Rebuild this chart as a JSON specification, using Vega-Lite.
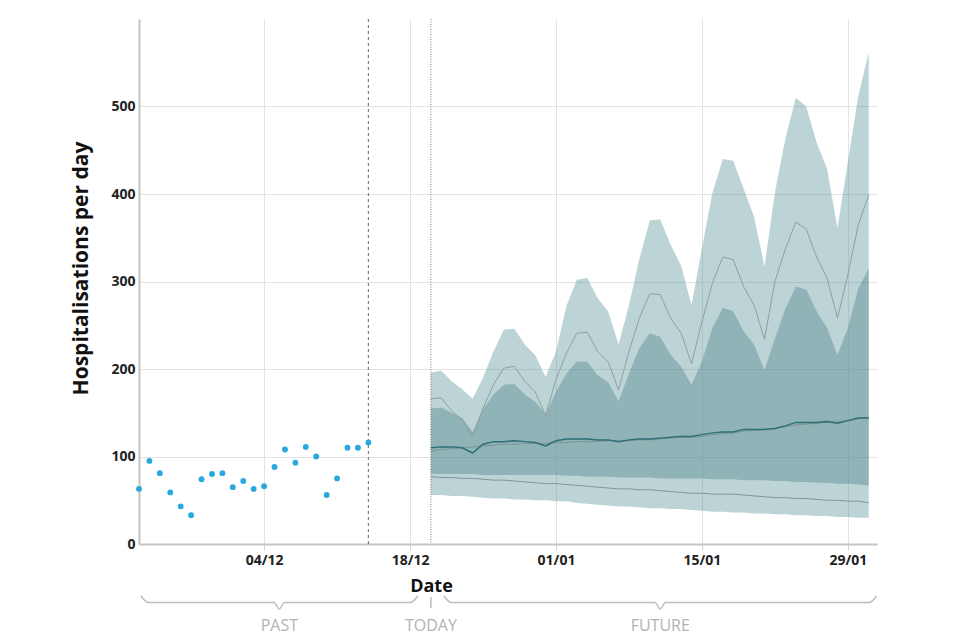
{
  "$schema": "https://vega.github.io/schema/vega-lite/v6.json",
  "padding": {"left": 70, "top": 18, "right": 5, "bottom": 5},
  "bounds": "flush",
  "spacing": 47,
  "config": {
    "font": "Open Sans",
    "view": {"stroke": null},
    "axis": {
      "labelFont": "Open Sans", "labelFontWeight": "bold", "labelFontSize": 14, "labelColor": "#222222",
      "titleFont": "Open Sans", "titleFontWeight": "bold", "titleFontSize": 18, "titleColor": "#111111",
      "gridColor": "#e3e3e3", "gridWidth": 1, "domainColor": "#c4c4c4", "domainWidth": 2
    },
    "axisY": {"ticks": false, "labelPadding": 4, "titlePadding": 19, "titleY": 249, "titleFontSize": 21},
    "axisX": {"tickColor": "#d0d0d0", "tickSize": 6, "labelPadding": 3}
  },
  "datasets": {
    "obs": [
      {"d": "2021-11-22", "v": 63}, {"d": "2021-11-23", "v": 95}, {"d": "2021-11-24", "v": 81},
      {"d": "2021-11-25", "v": 59}, {"d": "2021-11-26", "v": 43}, {"d": "2021-11-27", "v": 33},
      {"d": "2021-11-28", "v": 74}, {"d": "2021-11-29", "v": 80}, {"d": "2021-11-30", "v": 81},
      {"d": "2021-12-01", "v": 65}, {"d": "2021-12-02", "v": 72}, {"d": "2021-12-03", "v": 63},
      {"d": "2021-12-04", "v": 66}, {"d": "2021-12-05", "v": 88}, {"d": "2021-12-06", "v": 108},
      {"d": "2021-12-07", "v": 93}, {"d": "2021-12-08", "v": 111}, {"d": "2021-12-09", "v": 100},
      {"d": "2021-12-10", "v": 56}, {"d": "2021-12-11", "v": 75}, {"d": "2021-12-12", "v": 110},
      {"d": "2021-12-13", "v": 110}, {"d": "2021-12-14", "v": 116}
    ],
    "fc": [
      {"d": "2021-12-20", "olo": 56, "ilo": 80, "plo": 77, "mean": 106, "med": 110, "ihi": 155, "phi": 166, "ohi": 196},
      {"d": "2021-12-21", "olo": 56, "ilo": 80, "plo": 76, "mean": 108, "med": 111, "ihi": 156, "phi": 167, "ohi": 198},
      {"d": "2021-12-22", "olo": 55, "ilo": 80, "plo": 76, "mean": 109, "med": 111, "ihi": 150, "phi": 152, "ohi": 186},
      {"d": "2021-12-23", "olo": 55, "ilo": 80, "plo": 75, "mean": 110, "med": 110, "ihi": 144, "phi": 142, "ohi": 177},
      {"d": "2021-12-24", "olo": 54, "ilo": 80, "plo": 75, "mean": 111, "med": 104, "ihi": 128, "phi": 123, "ohi": 166},
      {"d": "2021-12-25", "olo": 53, "ilo": 79, "plo": 74, "mean": 112, "med": 114, "ihi": 154, "phi": 155, "ohi": 190},
      {"d": "2021-12-26", "olo": 52, "ilo": 79, "plo": 73, "mean": 113, "med": 117, "ihi": 171, "phi": 182, "ohi": 220},
      {"d": "2021-12-27", "olo": 52, "ilo": 79, "plo": 73, "mean": 114, "med": 117, "ihi": 182, "phi": 201, "ohi": 245},
      {"d": "2021-12-28", "olo": 51, "ilo": 79, "plo": 72, "mean": 114, "med": 118, "ihi": 183, "phi": 203, "ohi": 246},
      {"d": "2021-12-29", "olo": 51, "ilo": 79, "plo": 71, "mean": 115, "med": 117, "ihi": 171, "phi": 186, "ohi": 228},
      {"d": "2021-12-30", "olo": 50, "ilo": 79, "plo": 70, "mean": 115, "med": 116, "ihi": 163, "phi": 174, "ohi": 216},
      {"d": "2021-12-31", "olo": 50, "ilo": 79, "plo": 69, "mean": 115, "med": 112, "ihi": 148, "phi": 147, "ohi": 191},
      {"d": "2022-01-01", "olo": 49, "ilo": 79, "plo": 69, "mean": 116, "med": 118, "ihi": 174, "phi": 188, "ohi": 220},
      {"d": "2022-01-02", "olo": 49, "ilo": 78, "plo": 68, "mean": 116, "med": 120, "ihi": 195, "phi": 218, "ohi": 272},
      {"d": "2022-01-03", "olo": 47, "ilo": 78, "plo": 67, "mean": 117, "med": 120, "ihi": 209, "phi": 241, "ohi": 302},
      {"d": "2022-01-04", "olo": 46, "ilo": 77, "plo": 66, "mean": 117, "med": 120, "ihi": 208, "phi": 242, "ohi": 304},
      {"d": "2022-01-05", "olo": 45, "ilo": 77, "plo": 65, "mean": 117, "med": 119, "ihi": 193, "phi": 220, "ohi": 281},
      {"d": "2022-01-06", "olo": 44, "ilo": 77, "plo": 64, "mean": 118, "med": 119, "ihi": 185, "phi": 208, "ohi": 266},
      {"d": "2022-01-07", "olo": 43, "ilo": 76, "plo": 63, "mean": 118, "med": 117, "ihi": 163, "phi": 176, "ohi": 228},
      {"d": "2022-01-08", "olo": 43, "ilo": 76, "plo": 63, "mean": 118, "med": 119, "ihi": 195, "phi": 220, "ohi": 273},
      {"d": "2022-01-09", "olo": 42, "ilo": 76, "plo": 62, "mean": 119, "med": 120, "ihi": 224, "phi": 258, "ohi": 326},
      {"d": "2022-01-10", "olo": 41, "ilo": 76, "plo": 62, "mean": 119, "med": 120, "ihi": 241, "phi": 286, "ohi": 370},
      {"d": "2022-01-11", "olo": 41, "ilo": 75, "plo": 61, "mean": 120, "med": 121, "ihi": 237, "phi": 285, "ohi": 371},
      {"d": "2022-01-12", "olo": 40, "ilo": 75, "plo": 60, "mean": 121, "med": 122, "ihi": 216, "phi": 258, "ohi": 342},
      {"d": "2022-01-13", "olo": 40, "ilo": 75, "plo": 59, "mean": 122, "med": 123, "ihi": 203, "phi": 241, "ohi": 318},
      {"d": "2022-01-14", "olo": 39, "ilo": 75, "plo": 58, "mean": 122, "med": 123, "ihi": 182, "phi": 206, "ohi": 273},
      {"d": "2022-01-15", "olo": 38, "ilo": 75, "plo": 58, "mean": 123, "med": 125, "ihi": 209, "phi": 254, "ohi": 338},
      {"d": "2022-01-16", "olo": 37, "ilo": 74, "plo": 57, "mean": 125, "med": 127, "ihi": 247, "phi": 298, "ohi": 401},
      {"d": "2022-01-17", "olo": 37, "ilo": 74, "plo": 57, "mean": 126, "med": 128, "ihi": 270, "phi": 328, "ohi": 440},
      {"d": "2022-01-18", "olo": 36, "ilo": 74, "plo": 57, "mean": 127, "med": 128, "ihi": 266, "phi": 325, "ohi": 438},
      {"d": "2022-01-19", "olo": 36, "ilo": 73, "plo": 56, "mean": 129, "med": 131, "ihi": 243, "phi": 294, "ohi": 406},
      {"d": "2022-01-20", "olo": 35, "ilo": 73, "plo": 55, "mean": 130, "med": 131, "ihi": 228, "phi": 273, "ohi": 374},
      {"d": "2022-01-21", "olo": 35, "ilo": 73, "plo": 54, "mean": 131, "med": 131, "ihi": 199, "phi": 234, "ohi": 317},
      {"d": "2022-01-22", "olo": 34, "ilo": 72, "plo": 53, "mean": 132, "med": 132, "ihi": 235, "phi": 300, "ohi": 402},
      {"d": "2022-01-23", "olo": 34, "ilo": 72, "plo": 53, "mean": 134, "med": 135, "ihi": 269, "phi": 337, "ohi": 463},
      {"d": "2022-01-24", "olo": 33, "ilo": 71, "plo": 52, "mean": 136, "med": 139, "ihi": 294, "phi": 368, "ohi": 510},
      {"d": "2022-01-25", "olo": 33, "ilo": 71, "plo": 52, "mean": 137, "med": 139, "ihi": 291, "phi": 360, "ohi": 500},
      {"d": "2022-01-26", "olo": 32, "ilo": 70, "plo": 51, "mean": 138, "med": 139, "ihi": 266, "phi": 328, "ohi": 459},
      {"d": "2022-01-27", "olo": 32, "ilo": 70, "plo": 50, "mean": 139, "med": 140, "ihi": 247, "phi": 304, "ohi": 429},
      {"d": "2022-01-28", "olo": 31, "ilo": 69, "plo": 50, "mean": 140, "med": 138, "ihi": 216, "phi": 258, "ohi": 361},
      {"d": "2022-01-29", "olo": 31, "ilo": 69, "plo": 49, "mean": 141, "med": 141, "ihi": 247, "phi": 308, "ohi": 437},
      {"d": "2022-01-30", "olo": 30, "ilo": 68, "plo": 49, "mean": 143, "med": 144, "ihi": 292, "phi": 365, "ohi": 512},
      {"d": "2022-01-31", "olo": 30, "ilo": 67, "plo": 47, "mean": 144, "med": 144, "ihi": 315, "phi": 399, "ohi": 562}
    ],
    "marks": [
      {"d": "2021-12-14", "kind": "last"},
      {"d": "2021-12-20", "kind": "today"}
    ],
    "br": [
      {"g": "past", "t": "2021-11-22T04:30:00Z", "v": 8.9},
      {"g": "past", "t": "2021-11-22T22:00:00Z", "v": 7.44},
      {"g": "past", "t": "2021-12-04T23:00:00Z", "v": 7.44},
      {"g": "past", "t": "2021-12-05T11:00:00Z", "v": 6.0},
      {"g": "past", "t": "2021-12-05T23:00:00Z", "v": 7.44},
      {"g": "past", "t": "2021-12-18T01:00:00Z", "v": 7.44},
      {"g": "past", "t": "2021-12-18T18:00:00Z", "v": 8.9},
      {"g": "future", "t": "2021-12-21T06:00:00Z", "v": 8.9},
      {"g": "future", "t": "2021-12-21T23:00:00Z", "v": 7.44},
      {"g": "future", "t": "2022-01-10T12:00:00Z", "v": 7.44},
      {"g": "future", "t": "2022-01-11T00:00:00Z", "v": 6.0},
      {"g": "future", "t": "2022-01-11T12:00:00Z", "v": 7.44},
      {"g": "future", "t": "2022-01-31T01:00:00Z", "v": 7.44},
      {"g": "future", "t": "2022-01-31T18:00:00Z", "v": 8.9}
    ],
    "tick": [
      {"t": "2021-12-20T00:00:00Z", "v1": 8.67, "v2": 6.2}
    ],
    "lab": [
      {"label": "PAST", "t": "2021-12-05T11:00:00Z", "v": 2.2},
      {"label": "TODAY", "t": "2021-12-20T00:00:00Z", "v": 2.2},
      {"label": "FUTURE", "t": "2022-01-11T00:00:00Z", "v": 2.2}
    ]
  },
  "vconcat": [
    {
      "width": 738,
      "height": 525,
      "encoding": {
        "x": {
          "field": "d", "type": "temporal",
          "scale": {"type": "utc", "domain": [{"year": 2021, "month": 11, "date": 22, "utc": true}, {"year": 2022, "month": 1, "date": 31, "hours": 19, "utc": true}]},
          "axis": {
            "format": "%d/%m",
            "values": [
              {"year": 2021, "month": 12, "date": 4, "utc": true},
              {"year": 2021, "month": 12, "date": 18, "utc": true},
              {"year": 2022, "month": 1, "date": 1, "utc": true},
              {"year": 2022, "month": 1, "date": 15, "utc": true},
              {"year": 2022, "month": 1, "date": 29, "utc": true}
            ],
            "title": "Date", "titleX": 292, "titleY": 47, "titleBaseline": "alphabetic", "titleAlign": "center",
            "labelFlush": false
          }
        }
      },
      "layer": [
        {
          "data": {"name": "fc"},
          "mark": {"type": "area", "color": "#5a949b", "opacity": 0.4},
          "encoding": {
            "y": {"field": "olo", "type": "quantitative", "scale": {"domain": [0, 600]}, "title": "Hospitalisations per day", "axis": {"values": [0, 100, 200, 300, 400, 500]}},
            "y2": {"field": "ohi"}
          }
        },
        {
          "data": {"name": "fc"},
          "mark": {"type": "area", "color": "#4a8285", "opacity": 0.4},
          "encoding": {
            "y": {"field": "ilo", "type": "quantitative", "title": "Hospitalisations per day"},
            "y2": {"field": "ihi"}
          }
        },
        {
          "data": {"name": "fc"},
          "mark": {"type": "line", "color": "#8f9fa1", "strokeWidth": 1},
          "encoding": {"y": {"field": "phi", "type": "quantitative", "title": "Hospitalisations per day"}}
        },
        {
          "data": {"name": "fc"},
          "mark": {"type": "line", "color": "#7f9597", "strokeWidth": 1},
          "encoding": {"y": {"field": "plo", "type": "quantitative", "title": "Hospitalisations per day"}}
        },
        {
          "data": {"name": "fc"},
          "mark": {"type": "line", "color": "#7c9496", "strokeWidth": 1},
          "encoding": {"y": {"field": "mean", "type": "quantitative", "title": "Hospitalisations per day"}}
        },
        {
          "data": {"name": "fc"},
          "mark": {"type": "line", "color": "#2d6f76", "strokeWidth": 1.5},
          "encoding": {"y": {"field": "med", "type": "quantitative", "title": "Hospitalisations per day"}}
        },
        {
          "data": {"name": "marks"},
          "transform": [{"filter": "datum.kind == 'last'"}],
          "mark": {"type": "rule", "color": "#666666", "strokeWidth": 1, "strokeDash": [3, 3]},
          "encoding": {}
        },
        {
          "data": {"name": "marks"},
          "transform": [{"filter": "datum.kind == 'today'"}],
          "mark": {"type": "rule", "color": "#7a7a7a", "strokeWidth": 1, "strokeDash": [1, 1.5]},
          "encoding": {}
        },
        {
          "data": {"name": "obs"},
          "mark": {"type": "circle", "color": "#29a8e0", "opacity": 1, "size": 34},
          "encoding": {"y": {"field": "v", "type": "quantitative", "title": "Hospitalisations per day"}}
        }
      ]
    },
    {
      "width": 738,
      "height": 45,
      "layer": [
        {
          "data": {"name": "br"},
          "mark": {"type": "line", "color": "#bdbdbd", "strokeWidth": 1.5, "interpolate": "monotone"},
          "encoding": {
            "x": {"field": "t", "type": "temporal", "scale": {"type": "utc", "domain": [{"year": 2021, "month": 11, "date": 22, "utc": true}, {"year": 2022, "month": 1, "date": 31, "hours": 19, "utc": true}]}, "axis": null},
            "y": {"field": "v", "type": "quantitative", "scale": {"domain": [0, 10]}, "axis": null},
            "detail": {"field": "g"}
          }
        },
        {
          "data": {"name": "tick"},
          "mark": {"type": "rule", "color": "#bdbdbd", "strokeWidth": 1.5},
          "encoding": {
            "x": {"field": "t", "type": "temporal"},
            "y": {"field": "v1", "type": "quantitative"},
            "y2": {"field": "v2"}
          }
        },
        {
          "data": {"name": "lab"},
          "mark": {"type": "text", "font": "Open Sans", "fontSize": 16, "color": "#b3b3b3", "baseline": "middle", "align": "center"},
          "encoding": {
            "x": {"field": "t", "type": "temporal"},
            "y": {"field": "v", "type": "quantitative"},
            "text": {"field": "label"}
          }
        }
      ]
    }
  ]
}
